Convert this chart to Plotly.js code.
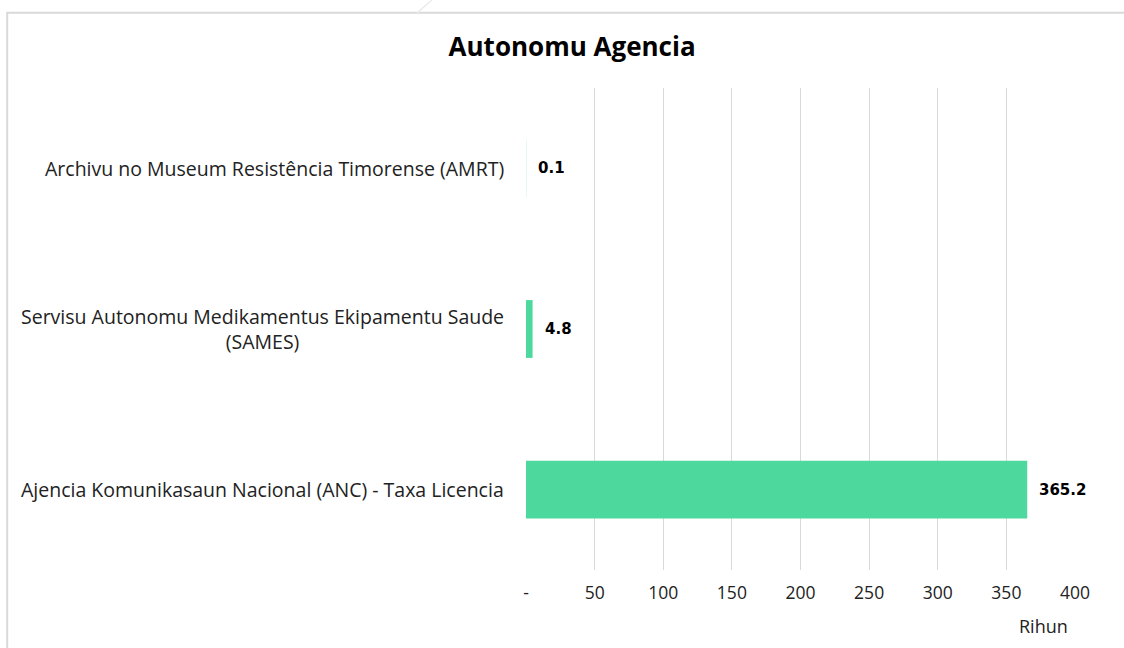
<!DOCTYPE html>
<html>
<head>
<meta charset="utf-8">
<script src="https://cdn.plot.ly/plotly-3.0.1.min.js"></script>
<style>html,body{margin:0;padding:0;background:#fff;}#chart{width:1124px;height:648px;}</style>
</head>
<body>
<div id="chart"></div>
<script>
var categories = [
  "Ajencia Komunikasaun Nacional (ANC) - Taxa Licencia",
  "Servisu Autonomu Medikamentus Ekipamentu Saude<br>(SAMES)",
  "Archivu no Museum Resistência Timorense (AMRT)"
];
var values = [365.2, 4.8, 0.1];
var valueLabels = ["365.2", "4.8", "0.1"];
var tickVals = [0, 50, 100, 150, 200, 250, 300, 350, 400];
var tickText = ["-", "50", "100", "150", "200", "250", "300", "350", "400"];

var labelFont = {family: 'Open Sans, sans-serif', size: 19.5, color: '#222'};

var trace = {
  type: 'bar',
  orientation: 'h',
  x: values,
  y: categories,
  marker: {color: '#4DD89E'},
  width: 0.36,
  hoverinfo: 'none'
};

var annotations = values.map(function(v, i){
  return {
    x: v, y: categories[i], xref: 'x', yref: 'y',
    text: '<b>' + valueLabels[i] + '</b>',
    showarrow: false, xanchor: 'left', xshift: 10,
    font: {family: 'DejaVu Sans, Verdana, sans-serif', size: 15, color: '#000'}
  };
});
categories.forEach(function(c){
  annotations.push({
    x: 0, y: c, xref: 'paper', yref: 'y',
    text: c, showarrow: false, xanchor: 'right', xshift: -20, align: 'center',
    font: labelFont
  });
});
annotations.push({
  xref: 'paper', yref: 'paper', x: 0.943, y: -0.088,
  text: 'Rihun', showarrow: false, xanchor: 'center', yanchor: 'top',
  font: {family: 'Open Sans, sans-serif', size: 18, color: '#222'}
});

var layout = {
  width: 1124, height: 648,
  margin: {l: 526, r: 49, t: 88, b: 78},
  paper_bgcolor: '#fff', plot_bgcolor: '#fff',
  title: {text: '<b>Autonomu Agencia</b>', x: 0.509, xanchor: 'center', y: 0.928, yanchor: 'middle',
          font: {family: 'Open Sans, sans-serif', size: 26, color: '#000'}},
  xaxis: {
    range: [0, 400], tickvals: tickVals, ticktext: tickText,
    showgrid: true, gridcolor: '#d9d9d9', gridwidth: 1, zeroline: false,
    showline: false, ticks: '', ticklabelstandoff: 10,
    tickfont: {family: 'Open Sans, sans-serif', size: 17.5, color: '#222'}
  },
  yaxis: {
    type: 'category', range: [-0.5, 2.5], showgrid: false, zeroline: false,
    showline: false, ticks: '', showticklabels: false
  },
  showlegend: false,
  annotations: annotations,
  shapes: [{
    type: 'rect', xref: 'paper', yref: 'paper',
    x0: -0.945, x1: 1.2, y0: -0.2, y1: 1.156,
    line: {color: '#d9d9d9', width: 2}, fillcolor: 'rgba(0,0,0,0)', layer: 'below'
  }, {
    type: 'line', xref: 'paper', yref: 'paper',
    x0: -0.1985, y0: 1.156, x1: -0.171, y1: 1.183,
    line: {color: '#ececec', width: 1.5}
  }]
};

Plotly.newPlot('chart', [trace], layout, {displayModeBar: false, staticPlot: true});
</script>
</body>
</html>
